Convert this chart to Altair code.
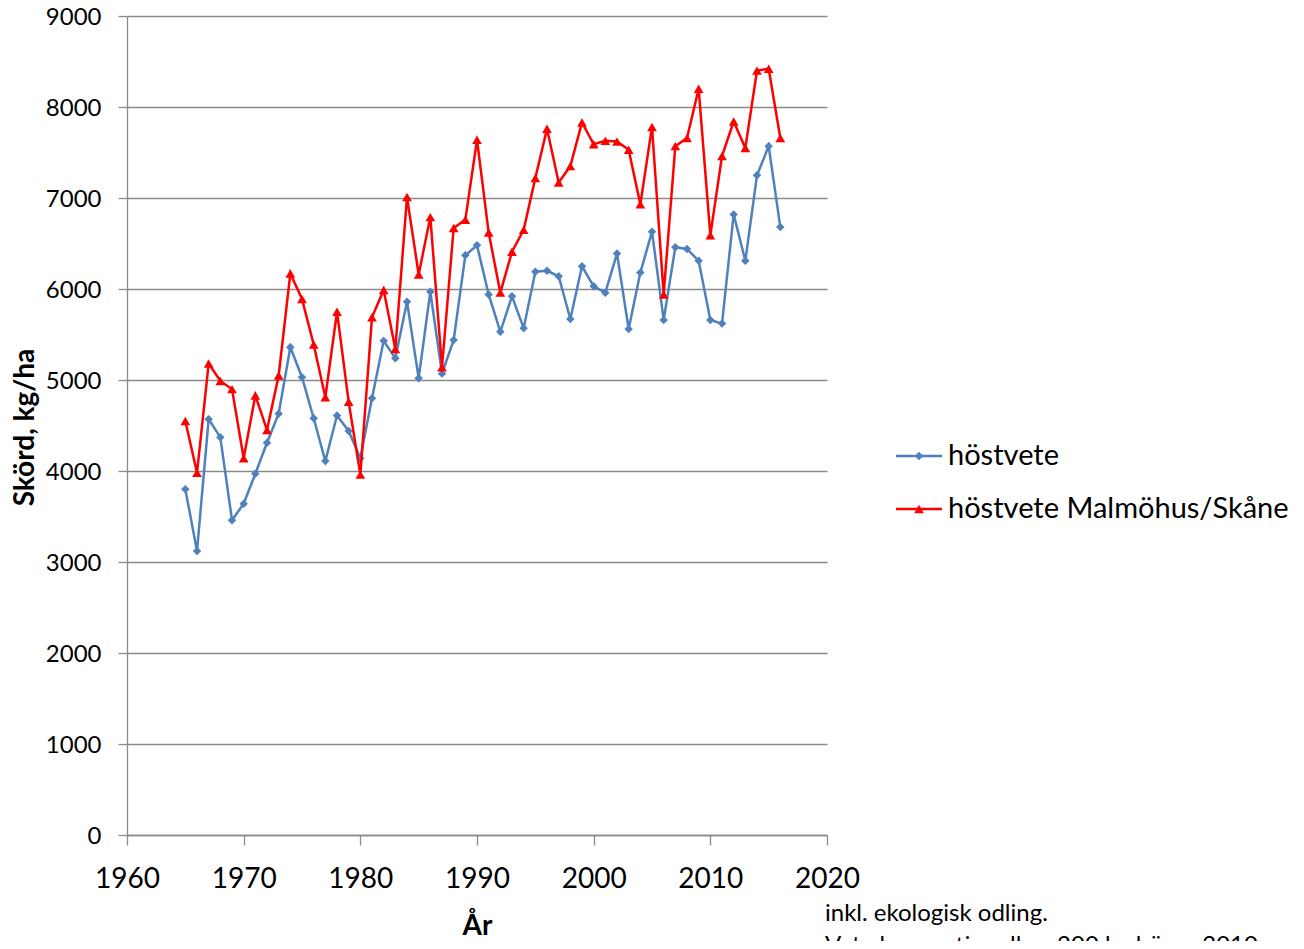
import altair as alt
import pandas as pd

years = [1965, 1966, 1967, 1968, 1969, 1970, 1971, 1972, 1973, 1974,
         1975, 1976, 1977, 1978, 1979, 1980, 1981, 1982, 1983, 1984,
         1985, 1986, 1987, 1988, 1989, 1990, 1991, 1992, 1993, 1994,
         1995, 1996, 1997, 1998, 1999, 2000, 2001, 2002, 2003, 2004,
         2005, 2006, 2007, 2008, 2009, 2010, 2011, 2012, 2013, 2014,
         2015, 2016]

hostvete = [3800, 3120, 4570, 4370, 3460, 3640, 3970, 4310, 4630, 5360,
            5030, 4580, 4110, 4610, 4440, 4140, 4800, 5430, 5240, 5860,
            5020, 5970, 5070, 5440, 6370, 6480, 5940, 5530, 5920, 5570,
            6190, 6200, 6140, 5670, 6250, 6030, 5960, 6390, 5560, 6180,
            6630, 5660, 6460, 6440, 6310, 5660, 5620, 6820, 6310, 7250,
            7570, 6680]

hostvete_skane = [4550, 3980, 5180, 4990, 4900, 4140, 4830, 4450, 5050, 6170,
                  5890, 5390, 4810, 5750, 4760, 3960, 5690, 5990, 5340, 7010,
                  6160, 6790, 5140, 6670, 6760, 7640, 6620, 5960, 6410, 6650,
                  7220, 7760, 7170, 7350, 7830, 7590, 7630, 7620, 7530, 6930,
                  7780, 5940, 7570, 7660, 8200, 6590, 7460, 7840, 7550, 8400,
                  8420, 7660]

series_names = ["höstvete", "höstvete Malmöhus/Skåne"]
series_colors = ["#4F81BD", "#FF0000"]
series_shapes = ["diamond", "triangle-up"]
series_sizes = [72, 95]

x_ticks = [1960, 1970, 1980, 1990, 2000, 2010, 2020]
y_ticks = [0, 1000, 2000, 3000, 4000, 5000, 6000, 7000, 8000, 9000]

note_lines = ["inkl. ekologisk odling.",
              "Vete konventionell ca 200 kg högre 2010 -"]

FONT = "Lato"
GREY = "#8a8a8a"

df = pd.DataFrame({
    "year": years + years,
    "value": hostvete + hostvete_skane,
    "series": [series_names[0]] * len(years) + [series_names[1]] * len(years),
})

x_enc = alt.X(
    "year:Q",
    scale=alt.Scale(domain=[1960, 2020], nice=False, zero=False),
    axis=alt.Axis(
        values=x_ticks, format="d", grid=False, tickSize=10,
        labelFontSize=28, labelPadding=20, labelFlush=False,
        title="År", titleFontSize=28, titleFontWeight="bold",
        titleX=350, titleY=99, titleBaseline="alphabetic", titleAlign="center",
    ),
)
y_enc = alt.Y(
    "value:Q",
    scale=alt.Scale(domain=[0, 9000], nice=False),
    axis=alt.Axis(
        values=y_ticks, format="d", grid=True, tickSize=9,
        labelFontSize=24, labelPadding=17, labelOffset=1,
        title="Skörd, kg/ha", titleFontSize=28, titleFontWeight="bold",
        titleAngle=270, titleX=-94, titleY=411,
        titleBaseline="alphabetic", titleAlign="center",
    ),
)

layers = []
for name, col, shp, sz in zip(series_names, series_colors, series_shapes, series_sizes):
    base = alt.Chart(df).transform_filter(alt.datum.series == name)
    layers.append(base.mark_line(color=col, strokeWidth=2.5).encode(x=x_enc, y=y_enc))
    layers.append(base.mark_point(shape=shp, filled=True, size=sz, color=col, opacity=1)
                  .encode(x=x_enc, y=y_enc))

# Legend (drawn manually to get line-through-marker symbols)
legend_rows = [440, 493]
for name, col, shp, sz, ly in zip(series_names, series_colors, series_shapes, series_sizes, legend_rows):
    ldf = pd.DataFrame({"s": [name]})
    lb = alt.Chart(ldf)
    layers.append(lb.mark_rule(color=col, strokeWidth=2.5)
                  .encode(x=alt.value(769), x2=alt.value(815), y=alt.value(ly)))
    layers.append(lb.mark_point(shape=shp, filled=True, size=sz, color=col, opacity=1)
                  .encode(x=alt.value(792), y=alt.value(ly)))
    layers.append(lb.mark_text(align="left", baseline="alphabetic", fontSize=29,
                               font=FONT, color="black")
                  .encode(x=alt.value(821), y=alt.value(ly + 9), text="s:N"))

note = alt.Chart(pd.DataFrame({"n": [0]})).mark_text(
    text=note_lines, align="left", baseline="alphabetic", fontSize=24,
    lineHeight=32, font=FONT, color="black",
).encode(x=alt.value(698), y=alt.value(905))
layers.append(note)

chart = alt.layer(*layers).properties(
    width=700, height=819,
    padding={"left": 119, "top": 8, "right": 469, "bottom": 106},
    autosize=alt.AutoSizeParams(type="none"),
).configure_view(stroke=None).configure_axis(
    domainColor=GREY, tickColor=GREY, gridColor=GREY,
    domainWidth=1.3, tickWidth=1.3, gridWidth=1.3,
    labelColor="black", titleColor="black",
    labelFont=FONT, titleFont=FONT,
)

chart.save("out.html", embed_options={"renderer": "svg", "actions": False})
